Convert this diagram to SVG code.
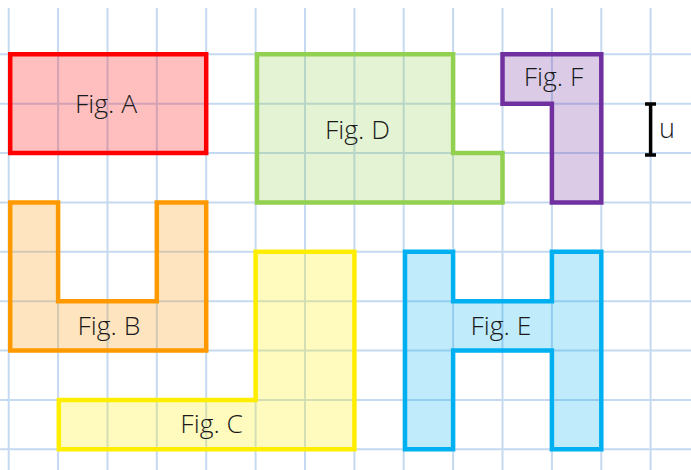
<svg xmlns="http://www.w3.org/2000/svg" width="691" height="470" viewBox="0 0 691 470">
<style>
.grid line{stroke:#c5d9f0;stroke-width:2}
.fig{stroke-width:4.5;stroke-linejoin:miter}
.lbl{font-family:"Open Sans","Noto Sans","Liberation Sans",sans-serif;font-size:26.5px;font-weight:300;fill:#1a1a1a;text-anchor:middle}
</style>
<rect width="691" height="470" fill="#ffffff"/>
<g id="grid" class="grid">
<line x1="8.7" y1="8" x2="8.7" y2="470"/>
<line x1="58.1" y1="8" x2="58.1" y2="470"/>
<line x1="107.5" y1="8" x2="107.5" y2="470"/>
<line x1="156.8" y1="8" x2="156.8" y2="470"/>
<line x1="206.2" y1="8" x2="206.2" y2="470"/>
<line x1="255.6" y1="8" x2="255.6" y2="470"/>
<line x1="305" y1="8" x2="305" y2="470"/>
<line x1="354.4" y1="8" x2="354.4" y2="470"/>
<line x1="403.7" y1="8" x2="403.7" y2="470"/>
<line x1="453.1" y1="8" x2="453.1" y2="470"/>
<line x1="502.5" y1="8" x2="502.5" y2="470"/>
<line x1="551.9" y1="8" x2="551.9" y2="470"/>
<line x1="601.3" y1="8" x2="601.3" y2="470"/>
<line x1="650.6" y1="8" x2="650.6" y2="470"/>
<line x1="0" y1="54.3" x2="691" y2="54.3"/>
<line x1="0" y1="103.7" x2="691" y2="103.7"/>
<line x1="0" y1="153.1" x2="691" y2="153.1"/>
<line x1="0" y1="202.4" x2="691" y2="202.4"/>
<line x1="0" y1="251.8" x2="691" y2="251.8"/>
<line x1="0" y1="301.2" x2="691" y2="301.2"/>
<line x1="0" y1="350.6" x2="691" y2="350.6"/>
<line x1="0" y1="400" x2="691" y2="400"/>
<line x1="0" y1="449.3" x2="691" y2="449.3"/>
</g>
<g id="figA">
<path class="fig" d="M10.2,54.3 H206.2 V153.1 H10.2 Z" fill="#ff0000" fill-opacity="0.25" stroke="#ff0000"/>
<text class="lbl" x="106" y="113">Fig. A</text>
</g>
<g id="figD">
<path class="fig" d="M257,54.3 H453.1 V153.1 H502.5 V202.4 H257 Z" fill="#92d050" fill-opacity="0.25" stroke="#92d050"/>
<text class="lbl" x="357.5" y="139">Fig. D</text>
</g>
<g id="figF">
<path class="fig" d="M502.5,54.3 H601.3 V202.4 H551.9 V103.7 H502.5 Z" fill="#7030a0" fill-opacity="0.25" stroke="#7030a0"/>
<text class="lbl" x="553.5" y="86">Fig. F</text>
</g>
<g id="unit">
<path d="M650.6,104 V155 M645,104 H656 M645,155 H656" stroke="#000000" stroke-width="3.5" fill="none"/>
<text x="659" y="138" style="font-family:'Open Sans','Noto Sans','Liberation Sans',sans-serif;font-size:27px;font-weight:300;fill:#1a1a1a">u</text>
</g>
<g id="figB">
<path class="fig" d="M10.2,202.4 H58.1 V301.2 H156.8 V202.4 H206.2 V350.6 H10.2 Z" fill="#ff9900" fill-opacity="0.25" stroke="#ff9900"/>
<text class="lbl" x="109" y="335">Fig. B</text>
</g>
<g id="figC">
<path class="fig" d="M255.6,251.8 H354.4 V449.3 H58.8 V400 H255.6 Z" fill="#ffee00" fill-opacity="0.25" stroke="#ffee00"/>
<text class="lbl" x="211.7" y="433">Fig. C</text>
</g>
<g id="figE">
<path class="fig" d="M405,251.8 H453.1 V301.2 H551.9 V251.8 H601.3 V449.3 H551.9 V350.6 H453.1 V449.3 H405 Z" fill="#00b0f0" fill-opacity="0.25" stroke="#00b0f0"/>
<text class="lbl" x="501" y="335">Fig. E</text>
</g>
<g id="connectors"/>
</svg>
